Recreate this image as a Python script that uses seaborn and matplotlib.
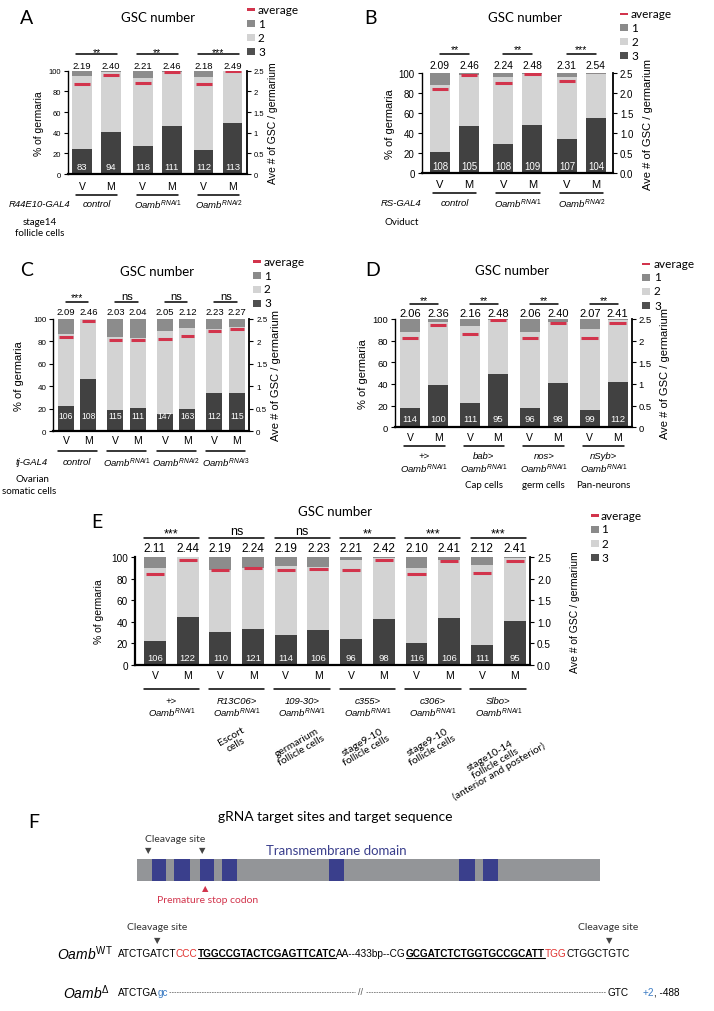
import numpy as np
import pandas as pd
import matplotlib
matplotlib.use("Agg")
import matplotlib.pyplot as plt
import matplotlib.transforms as mtransforms
from matplotlib.patches import Rectangle
from matplotlib.lines import Line2D
import seaborn as sns

# ---------------- data ----------------
# % germaria with 3 GSCs (dark) and 1 GSC (top, mid grey); rest = 2 GSCs
A_p3 = [24, 41, 27.5, 46.5, 23.5, 49.5]
A_p1 = [5.5, 1, 7, 1, 6.5, 0.5]
A_avg = [2.19, 2.40, 2.21, 2.46, 2.18, 2.49]
A_n = [83, 94, 118, 111, 112, 113]
A_sig = ["**", "**", "***"]
A_groups = ["control", "RNAi1", "RNAi2"]

B_p3 = [21.3, 47.3, 28.7, 48.3, 34, 55.3]
B_p1 = [12, 1.5, 4, 1, 3.7, 1]
B_avg = [2.09, 2.46, 2.24, 2.48, 2.31, 2.54]
B_n = [108, 105, 108, 109, 107, 104]
B_sig = ["**", "**", "***"]
B_groups = ["control", "RNAi1", "RNAi2"]

C_p3 = [22.5, 46.3, 19.3, 20.8, 15.7, 20.2, 33.8, 33.8]
C_p1 = [13.4, 0, 15.7, 17.2, 10.4, 8, 8.9, 7.1]
C_avg = [2.09, 2.46, 2.03, 2.04, 2.05, 2.12, 2.23, 2.27]
C_n = [106, 108, 115, 111, 147, 163, 112, 115]
C_sig = ["***", "ns", "ns", "ns"]
C_groups = ["control", "RNAi1", "RNAi2", "RNAi3"]

D_p3 = [17.5, 39.1, 22.8, 48.9, 18.2, 40.9, 16, 41.8]
D_p1 = [12.3, 2.5, 6.8, 1, 12.3, 2.5, 9.2, 1]
D_avg = [2.06, 2.36, 2.16, 2.48, 2.06, 2.40, 2.07, 2.41]
D_n = [114, 100, 111, 95, 96, 98, 99, 112]
D_sig = ["**", "**", "**", "**"]
D_drivers = ["+>", "bab>", "nos>", "nSyb>"]
D_cells = ["", "Cap cells", "germ cells", "Pan-neurons"]

E_p3 = [22, 44, 31, 33.7, 27.9, 32.2, 24.1, 42.7, 20.4, 43.7, 18.6, 40.9]
E_p1 = [10.2, 0, 12.4, 9.9, 8.7, 9.6, 2.8, 0.5, 10.2, 2.5, 7.7, 0.5]
E_avg = [2.11, 2.44, 2.19, 2.24, 2.19, 2.23, 2.21, 2.42, 2.10, 2.41, 2.12, 2.41]
E_n = [106, 122, 110, 121, 114, 106, 96, 98, 116, 106, 111, 95]
E_sig = ["***", "ns", "ns", "**", "***", "***"]
E_drivers = ["+>", "R13C06>", "109-30>", "c355>", "c306>", "Slbo>"]
E_cells = ["", "Escort\ncells", "germarium\nfollicle cells", "stage9-10\nfollicle cells",
           "stage9-10\nfollicle cells", "stage10-14\nfollicle cells\n(anterior and posterior)"]

conditions = ["V", "M"]
legend_labels = ["average", "1", "2", "3"]

# panel F schematic
tm_domains = [(151.6, 166.2), (174.4, 189.9), (199.5, 214.0), (221.8, 236.8),
              (328.8, 343.8), (459.0, 474.5), (482.7, 497.7)]
seq_wt = [("ATCTGATCT", "k", False), ("CCC", "r", False), ("TGGCCGTACTCGAGTTCATC", "k", True),
          ("AA--433bp--CG", "k", False), ("GCGATCTCTGGTGCCGCATT", "k", True),
          ("TGG", "r", False), ("CTGGCTGTC", "k", False)]

# ---------------- style ----------------
sns.set_theme(style="white", rc={"axes.edgecolor": "black", "text.color": "black",
                                 "xtick.color": "black", "ytick.color": "black"})
plt.rcParams["font.family"] = ["Liberation Sans", "DejaVu Sans"]
plt.rcParams.update({"mathtext.fontset": "custom", "mathtext.it": "Liberation Sans:italic",
                     "mathtext.rm": "Liberation Sans", "mathtext.bf": "Liberation Sans:bold",
                     "mathtext.sf": "Liberation Sans"})

RED = "#d2344c"
C1, C2, C3 = "#8c8c8c", "#d3d3d3", "#414141"
LC1, LC3 = "#8a8a8a", "#4f4f4f"
BLUE = "#3a3f8c"
LBLUE = "#3c7cc4"
SRED = "#e0322f"
SANS2 = ["Lato", "DejaVu Sans"]

W, H = 714, 1012
fig = plt.figure(figsize=(W / 100, H / 100), dpi=100)
PX = mtransforms.Affine2D().scale(1 / W, -1 / H).translate(0, 1) + fig.transFigure
PT = 100 / 72.0  # pixels per point


def T(x, y, s, **kw):
    kw.setdefault("ha", "center")
    kw.setdefault("va", "center")
    return fig.text(x, y, s, transform=PX, **kw)


def oamb(tag):
    return r"$\mathit{Oamb}^{\mathit{%s}}$" % tag


def legend(xm, xt, ys, fs, sq=8):
    fig.add_artist(Rectangle((xm, ys[0] - 1.4), sq, 2.8, transform=PX, color=RED, lw=0))
    for y, c in zip(ys[1:], (LC1, C2, LC3)):
        fig.add_artist(Rectangle((xm, y - sq / 2 + 0.5), sq, sq - 1, transform=PX, color=c, lw=0))
    for y, s in zip(ys, legend_labels):
        T(xt, y, s, ha="left", fontsize=fs, family=SANS2)


def panel(cfg, p3, p1, avg, n, sig):
    l, t, r, b = cfg["box"]
    ng = len(sig)
    pos = np.array([g * cfg["gap"] + m for g in range(ng) for m in (0, 1)], float)
    ax = fig.add_axes([l / W, 1 - b / H, (r - l) / W, (b - t) / H])
    ax.patch.set_alpha(0)
    df = pd.DataFrame({"pos": pos, "one": 100.0, "two": 100.0 - np.asarray(p1, float),
                       "three": np.asarray(p3, float)})
    for col, c in (("one", C1), ("two", C2), ("three", C3)):
        sns.barplot(data=df, x="pos", y=col, native_scale=True, color=c, saturation=1,
                    width=cfg["width"], errorbar=None, linewidth=0, ax=ax)
    ax.set_xlim(*cfg["xlim"])
    ax.set_ylim(0, 100)
    ax.set_xlabel("")
    ax.set_ylabel("")
    ax.set_xticks([])
    ax.set_yticks(range(0, 101, 20))
    ax.tick_params(axis="y", left=True, length=3, width=0.8, pad=2, labelsize=cfg["fs_tick"])
    for s in ("top", "right"):
        ax.spines[s].set_visible(False)
    ax.spines["bottom"].set_linewidth(1.6)
    ax.spines["left"].set_linewidth(cfg.get("lw_left", 1.0))

    ax2 = ax.twinx()
    ax2.set_ylim(0, 2.5)
    ax2.set_yticks([0, 0.5, 1, 1.5, 2, 2.5], cfg["rl"])
    ax2.tick_params(axis="y", right=True, length=3, width=0.8, pad=2, labelsize=cfg["fs_tick"])
    for s in ("top", "left", "bottom"):
        ax2.spines[s].set_visible(False)
    ax2.spines["right"].set_linewidth(1.3)
    hw = cfg["width"] / 2 * 0.83
    ax2.hlines(avg, pos - hw, pos + hw, color=RED, lw=2.2)

    for p, a, k in zip(pos, avg, n):
        ax.text(p, cfg["y_avg"], f"{a:.2f}", ha="center", va="center",
                fontsize=cfg["fs_avg"], clip_on=False)
        ax.text(p, cfg["y_n"], str(k), ha="center", va="center", color="white",
                fontsize=cfg["fs_n"])
    bt = mtransforms.blended_transform_factory(ax.transData, PX)
    for i, p in enumerate(pos):
        ax.text(p, cfg["y_vm"], conditions[i % 2], transform=bt, ha="center", va="center",
                fontsize=cfg["fs_vm"])
    for g, s in enumerate(sig):
        x0, x1 = pos[2 * g], pos[2 * g + 1]
        ax.plot([x0 - cfg["sig_ext"], x1 + cfg["sig_ext"]], [cfg["y_sigline"]] * 2,
                color="black", lw=1.1, clip_on=False)
        if s == "ns":
            fs = cfg["fs_ns"]
            ybase = cfg["y_ns_px"] + 0.26 * fs * PT
        else:
            fs = cfg["fs_sig"]
            ybase = cfg["y_star_px"] + 0.56 * fs * PT
        ax.text((x0 + x1) / 2, ybase, s, transform=bt, ha="center", va="baseline",
                fontsize=fs)
        fig.add_artist(Line2D([x0 - cfg["ul_ext"], x1 + cfg["ul_ext"]], [cfg["y_ul"]] * 2,
                              transform=bt, color="black", lw=1.1))
    centers = [(pos[2 * g] + pos[2 * g + 1]) / 2 for g in range(ng)]
    return ax, bt, centers


# ---------------- panel A ----------------
cfgA = dict(box=(68.3, 71.7, 246.7, 175), gap=2.1, xlim=(-0.47, 5.68), width=0.67,
            rl=["0", "0.5", "1", "1.5", "2", "2.5"], fs_tick=5.5, fs_avg=6.8, fs_n=6.8,
            fs_vm=7.5, fs_sig=7.5, fs_ns=8, y_star_px=50, y_ns_px=50,
            y_avg=105, y_sigline=116.5, sig_ext=0.2,
            y_n=7, y_vm=187.3, y_ul=196, ul_ext=0.2)
ax, bt, cen = panel(cfgA, A_p3, A_p1, A_avg, A_n, A_sig)
for c, g in zip(cen, A_groups):
    ax.text(c, 205, g if g == "control" else oamb(g), transform=bt, ha="center", va="center",
            fontsize=6.8, style="italic")
T(40, 205, "R44E10-GAL4", fontsize=6.8, style="italic")
T(40, 223, "stage14", fontsize=7, family=SANS2)
T(40, 233.5, "follicle cells", fontsize=7, family=SANS2)
T(27, 18, "A", fontsize=14, family=SANS2)
T(158, 18, "GSC number", fontsize=9.5, family=SANS2)
T(39, 123.5, "% of germaria", rotation=90, fontsize=7.5)
T(273, 123.5, "Ave # of GSC / germarium", rotation=90, fontsize=7.5)
legend(247, 258, [10.7, 24, 38, 52], 8.5)

# ---------------- panel B ----------------
cfgB = dict(box=(421.7, 74, 613, 174), gap=2.19, xlim=(-0.63, 5.97), width=0.69,
            rl=["0.0", "0.5", "1.0", "1.5", "2.0", "2.5"], fs_tick=7, fs_avg=7.4, fs_n=7,
            fs_vm=8, fs_sig=7.5, fs_ns=8, y_star_px=47, y_ns_px=47,
            y_avg=108.3, y_sigline=119, sig_ext=0.0,
            y_n=7, y_vm=185, y_ul=194.3, ul_ext=0.25)
ax, bt, cen = panel(cfgB, B_p3, B_p1, B_avg, B_n, B_sig)
for c, g in zip(cen, B_groups):
    ax.text(c, 204, g if g == "control" else oamb(g), transform=bt, ha="center", va="center",
            fontsize=6.8, style="italic")
T(401, 204, "RS-GAL4", fontsize=6.8, style="italic")
T(402, 222.7, "Oviduct", fontsize=7, family=SANS2)
T(370, 18, "B", fontsize=14, family=SANS2)
T(525, 18, "GSC number", fontsize=9.5, family=SANS2)
T(390, 124, "% of germaria", rotation=90, fontsize=8)
T(648, 124, "Ave # of GSC / germarium", rotation=90, fontsize=8)
legend(620, 631, [15, 28, 42.7, 56.7], 8.5)

# ---------------- panel C ----------------
cfgC = dict(box=(53.3, 320, 249.3, 432.3), gap=2.2, xlim=(-0.56, 8.15), width=0.71,
            rl=["0", "0.5", "1", "1.5", "2", "2.5"], fs_tick=5.8, fs_avg=6.8, fs_n=6.2,
            fs_vm=7.5, fs_sig=7.5, fs_ns=8, y_star_px=295, y_ns_px=296.7,
            y_avg=106.5, y_sigline=115.4, sig_ext=0.0,
            y_n=13.9, y_vm=441, y_ul=452.3, ul_ext=0.36)
ax, bt, cen = panel(cfgC, C_p3, C_p1, C_avg, C_n, C_sig)
for c, g in zip(cen, C_groups):
    ax.text(c, 462.7, g if g == "control" else oamb(g), transform=bt, ha="center",
            va="center", fontsize=6.8, style="italic")
T(32, 462.7, "tj-GAL4", fontsize=6.8, style="italic")
T(32, 480, "Ovarian", fontsize=7, family=SANS2)
T(29, 491.7, "somatic cells", fontsize=7, family=SANS2)
T(27, 271, "C", fontsize=14, family=SANS2)
T(157, 271.7, "GSC number", fontsize=9.5, family=SANS2)
T(19, 376, "% of germaria", rotation=90, fontsize=8)
T(276, 376, "Ave # of GSC / germarium", rotation=90, fontsize=8)
legend(253, 264, [262.7, 276.7, 290, 304], 8.5)

# ---------------- panel D ----------------
cfgD = dict(box=(395, 320, 631.7, 428.3), gap=2.14, xlim=(-0.54, 7.92), width=0.71,
            rl=["0", "0.5", "1", "1.5", "2", "2.5"], fs_tick=6.8, fs_avg=8, fs_n=6.8,
            fs_vm=7.5, fs_sig=7.5, fs_ns=8, y_star_px=298.3, y_ns_px=298.3,
            y_avg=105.6, y_sigline=114.2, sig_ext=0.0,
            y_n=7.7, y_vm=437.7, y_ul=446.7, ul_ext=0.23)
ax, bt, cen = panel(cfgD, D_p3, D_p1, D_avg, D_n, D_sig)
for c, d, cell in zip(cen, D_drivers, D_cells):
    ax.text(c, 456.7, d, transform=bt, ha="center", va="center", fontsize=6.8, style="italic")
    ax.text(c, 468.3, oamb("RNAi1"), transform=bt, ha="center", va="center", fontsize=6.8)
    if cell:
        ax.text(c, 485.7, cell, transform=bt, ha="center", va="center", fontsize=7,
                family=SANS2)
T(373, 271, "D", fontsize=14, family=SANS2)
T(512, 271, "GSC number", fontsize=9.5, family=SANS2)
T(363, 374, "% of germaria", rotation=90, fontsize=8)
T(665, 374, "Ave # of GSC / germarium", rotation=90, fontsize=8)
legend(642, 654, [265, 278, 292, 306.7], 8.5)

# ---------------- panel E ----------------
cfgE = dict(box=(135, 558, 530, 666), gap=2, xlim=(-0.61, 11.47), width=0.67,
            rl=["0.0", "0.5", "1.0", "1.5", "2.0", "2.5"], fs_tick=7.2, fs_avg=8.5, fs_n=6.8,
            fs_vm=7.5, fs_sig=9, fs_ns=9, y_star_px=530.7, y_ns_px=531.7,
            y_avg=108, y_sigline=117.4, sig_ext=0.34,
            y_n=7.1, y_vm=676, y_ul=690, ul_ext=0.35, lw_left=1.6)
ax, bt, cen = panel(cfgE, E_p3, E_p1, E_avg, E_n, E_sig)
for c, d, cell in zip(cen, E_drivers, E_cells):
    ax.text(c, 701.7, d, transform=bt, ha="center", va="center", fontsize=6.8, style="italic")
    ax.text(c, 712.7, oamb("RNAi1"), transform=bt, ha="center", va="center", fontsize=6.8)
    if cell:
        ax.text(c - 0.1, 726, cell, transform=bt, ha="center", va="top", rotation=30,
                multialignment="center", fontsize=7.5, family=SANS2, linespacing=1.0)
T(97, 523, "E", fontsize=14, family=SANS2)
T(335, 511.7, "GSC number", fontsize=9.5, family=SANS2)
T(99, 612, "% of germaria", rotation=90, fontsize=7.5)
T(575, 612, "Ave # of GSC / germarium", rotation=90, fontsize=7.5)
legend(591, 601, [516.7, 530, 544.3, 558.3], 8.5)

# ---------------- panel F ----------------
T(34, 823, "F", fontsize=14, family=SANS2)
T(335, 816.7, "gRNA target sites and target sequence", fontsize=10, family=SANS2)
fig.add_artist(Rectangle((136.6, 860), 463.6, 21.7, transform=PX, color="#939598", lw=0))
for x0, x1 in tm_domains:
    fig.add_artist(Rectangle((x0, 860), x1 - x0, 21.7, transform=PX, color=BLUE, lw=0))
T(336, 851, "Transmembrane domain", fontsize=9.5, color=BLUE, family=SANS2)
T(175, 839.3, "Cleavage site", fontsize=7.5, color="#333333", family=SANS2)
for x in (148, 202.6):
    T(x, 851, "\u25BC", fontsize=6, color="#444444", family=["DejaVu Sans"])
T(205, 889, "\u25B2", fontsize=6, color=RED, family=["DejaVu Sans"])
T(208, 900.7, "Premature stop codon", fontsize=7.5, color=RED, family=SANS2)
T(157, 927.7, "Cleavage site", fontsize=7.5, color="#333333", family=SANS2)
T(608, 927.7, "Cleavage site", fontsize=7.5, color="#333333", family=SANS2)
for x in (157, 609):
    T(x, 941, "\u25BC", fontsize=6, color="#444444", family=["DejaVu Sans"])

T(85, 954, r"$\mathit{Oamb}^{\mathrm{WT}}$", fontsize=10)
T(86, 993, r"$\mathit{Oamb}^{\Delta}$", fontsize=10)

renderer = fig.canvas.get_renderer()
x_start, x_end, y_seq = 117.5, 628.4, 954
tot = 0.0
for s, c, bold in seq_wt:
    t = T(0, 0, s, fontsize=10, ha="left", fontweight="bold" if bold else "normal")
    tot += t.get_window_extent(renderer).width
    t.remove()
fs_seq = 10 * (x_end - x_start) / tot
x = x_start
for s, c, bold in seq_wt:
    t = T(x, y_seq, s, fontsize=fs_seq, ha="left", color=SRED if c == "r" else "black",
          fontweight="bold" if bold else "normal")
    w = t.get_window_extent(renderer).width
    if bold:
        fig.add_artist(Line2D([x, x + w], [y_seq + 5.5] * 2, transform=PX, color="black", lw=0.8))
    x += w

# deletion allele row
y_d = 993
t = T(x_start, y_d, "ATCTGA", fontsize=fs_seq, ha="left")
x = x_start + t.get_window_extent(renderer).width
t = T(x, y_d, "gc", fontsize=fs_seq, ha="left", color=LBLUE)
x += t.get_window_extent(renderer).width
t = T(x_end, y_d, "GTC", fontsize=fs_seq, ha="right")
x_gtc = x_end - t.get_window_extent(renderer).width
T(360, y_d, "//", fontsize=fs_seq * 0.9, color="#555555")
fig.add_artist(Line2D([x + 1, 355], [y_d + 0.5] * 2, transform=PX, color="#777777", lw=0.6,
                      ls=(0, (2, 1))))
fig.add_artist(Line2D([366, x_gtc - 1], [y_d + 0.5] * 2, transform=PX, color="#777777", lw=0.6,
                      ls=(0, (2, 1))))
t = T(643, y_d, "+2", fontsize=fs_seq, ha="left", color=LBLUE)
x = 643 + t.get_window_extent(renderer).width
T(x, y_d, ", -488", fontsize=fs_seq, ha="left")

fig.savefig("out.png", dpi=100)
